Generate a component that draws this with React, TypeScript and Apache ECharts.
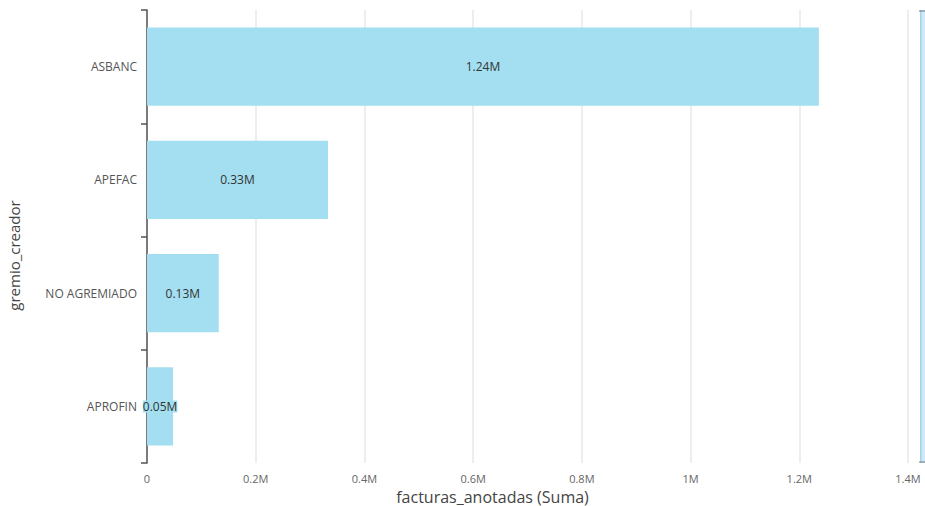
import React, { useEffect, useRef } from "react";
import * as echarts from "echarts";

const categories = ["ASBANC", "APEFAC", "NO AGREMIADO", "APROFIN"];
const values = [1236000, 333000, 132000, 48000];
const xTicks = [0, 200000, 400000, 600000, 800000, 1000000, 1200000, 1400000];

const fmtAxis = (v: number) => (v === 0 ? "0" : `${+(v / 1e6).toFixed(1)}M`);
const fmtLabel = (v: number) => `${(v / 1e6).toFixed(2)}M`;

export default function App() {
  const ref = useRef<HTMLDivElement>(null);
  useEffect(() => {
    document.body.style.margin = "0";
    const chart = echarts.init(ref.current!, null, { renderer: "svg" });
    const font = "'Open Sans', 'Noto Sans', sans-serif";
    chart.setOption({
      animation: false,
      textStyle: { fontFamily: font },
      grid: { left: 147, right: 17, top: 10, bottom: 43, containLabel: false, outerBoundsMode: "none" },
      xAxis: {
        type: "value",
        min: xTicks[0],
        max: xTicks[xTicks.length - 1],
        interval: xTicks[1] - xTicks[0],
        name: "facturas_anotadas (Suma)",
        nameLocation: "middle",
        nameGap: 25,
        nameMoveOverlap: false,
        nameTextStyle: { fontSize: 16, lineHeight: 18, color: "#444", fontFamily: font, padding: [0, 70, 0, 0] },
        axisLine: { show: false },
        axisTick: { show: false },
        axisLabel: { formatter: fmtAxis, color: "#666", fontSize: 11, margin: 10, fontFamily: font },
        splitLine: { show: true, lineStyle: { color: "#e8e8e8", width: 1.5 } },
      },
      yAxis: {
        type: "category",
        data: categories,
        inverse: true,
        name: "gremio_creador",
        nameLocation: "middle",
        nameGap: 126,
        nameRotate: 90,
        nameTextStyle: { fontSize: 15, color: "#444", fontFamily: font, padding: [0, 38, 0, 0] },
        axisLine: { show: true, lineStyle: { color: "#555", width: 1.5 } },
        axisTick: { show: true, length: 6, lineStyle: { color: "#555", width: 1.5 } },
        axisLabel: { color: "#555", fontSize: 12, margin: 10, fontFamily: font },
        splitLine: { show: false },
      },
      series: [
        {
          type: "bar",
          data: values,
          barWidth: "69%",
          itemStyle: { color: "#a3dff0" },
          label: {
            show: true,
            position: "inside",
            formatter: (p: any) => fmtLabel(p.value),
            color: "#333",
            fontSize: 12,
            fontFamily: font,
            backgroundColor: "#a3dff0",
          },
        },
      ],
      graphic: [
        { type: "rect", shape: { x: 920, y: 10, width: 5, height: 453 }, style: { fill: "#cfe9f5" } },
        { type: "rect", shape: { x: 920, y: 10, width: 1.5, height: 453 }, style: { fill: "#9fd6ec" } },
        { type: "line", shape: { x1: 919, y1: 11, x2: 925, y2: 11 }, style: { stroke: "#777", lineWidth: 1 } },
        { type: "line", shape: { x1: 919, y1: 462, x2: 925, y2: 462 }, style: { stroke: "#777", lineWidth: 1 } },
      ],
    });
    return () => chart.dispose();
  }, []);
  return <div ref={ref} style={{ width: 925, height: 506 }} />;
}
